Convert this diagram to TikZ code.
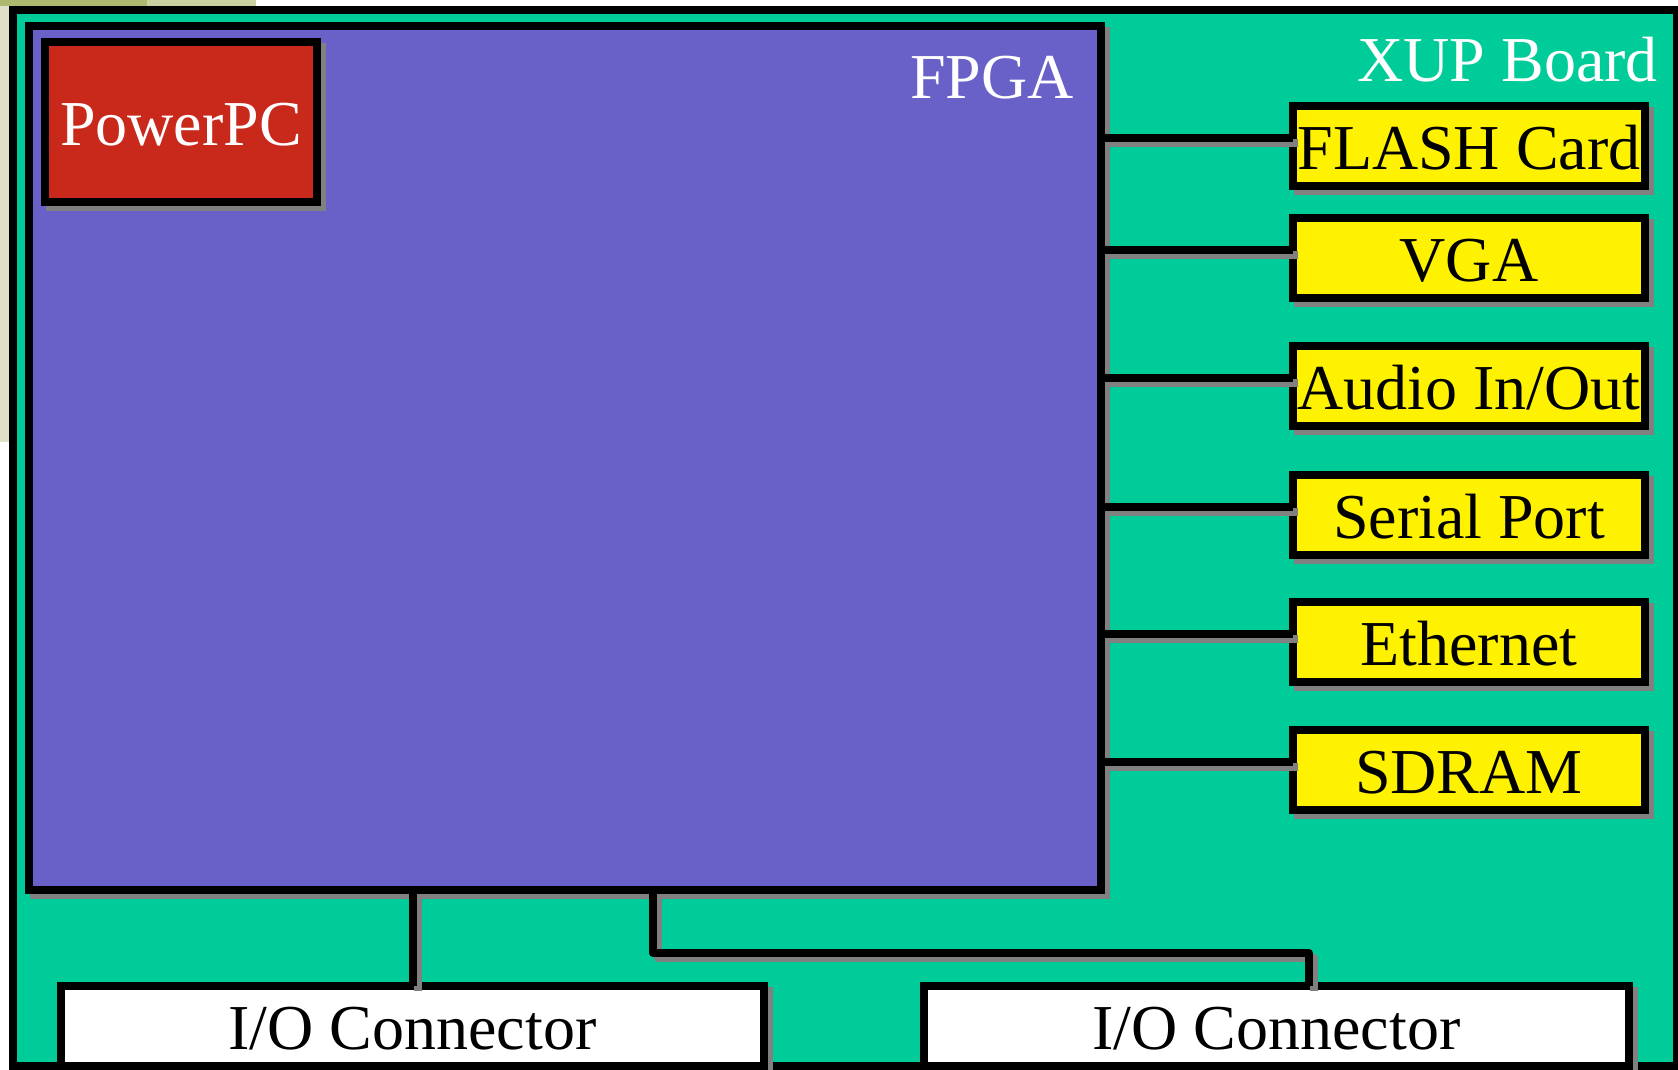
\documentclass[tikz,border=0pt]{standalone}
\usepackage{fontspec}
\setmainfont{Liberation Serif}
\usetikzlibrary{calc}
\definecolor{boardgreen}{RGB}{0,204,153}
\definecolor{fpgapurple}{RGB}{106,97,200}
\definecolor{pcred}{RGB}{201,41,27}
\definecolor{shadowc}{RGB}{128,128,128}
\definecolor{beigec}{RGB}{224,224,200}
\definecolor{olivec}{RGB}{176,184,112}
\definecolor{olivelight}{RGB}{204,208,160}
\begin{document}
\begin{tikzpicture}[x=1pt,y=-1pt,
  bx/.style={draw=black, line width=8pt, rectangle, inner sep=0pt, outer sep=0pt,
    font=\fontsize{64}{70}\selectfont, text height=46pt, text depth=0pt},
  ybox/.style={bx, fill=yellow, minimum width=352pt, minimum height=80pt},
  iobox/.style={bx, fill=white, minimum height=80pt},
  lbl/.style={text=white, inner sep=0pt, outer sep=0pt, font=\fontsize{64}{70}\selectfont, anchor=base east},
  conn/.style={draw=black, line width=8pt, line join=round},
  connshadow/.style={draw=shadowc, line width=8pt, line join=round, transform canvas={xshift=5pt,yshift=-5pt}},
  shd/.style={fill=shadowc}]
\useasboundingbox (0,0) rectangle (1678,1069);
% page background and screenshot remnants
\fill[white] (0,0) rectangle (1678,1069);
\fill[beigec] (0,0) rectangle (9,442);
\fill[olivec] (0,0) rectangle (147,6);
\fill[olivelight] (147,0) rectangle (256,6);
% board
\node[bx, fill=boardgreen, minimum width=1664pt, minimum height=1056pt] (board) at (845,538) {};
\node[lbl] (xuplbl) at (1658,81) {XUP Board};
% FPGA
\fill[shd] (30,27) rectangle (1110,899);
\node[bx, fill=fpgapurple, minimum width=1072pt, minimum height=864pt] (fpga) at (565,458) {};
\node[lbl] (fpgalbl) at (1074,98) {FPGA};
% PowerPC
\fill[shd] (46,43) rectangle (326,211);
\node[bx, fill=pcred, text=white, minimum width=272pt, minimum height=160pt] (pc) at (181,122) {PowerPC};
% peripherals
\fill[shd] (1294,107) rectangle (1654,195);
\node[ybox] (flash) at (1469,146) {FLASH Card};
\fill[shd] (1294,219) rectangle (1654,307);
\node[ybox] (vga) at (1469,258) {VGA};
\fill[shd] (1294,347) rectangle (1654,435);
\node[ybox] (audio) at (1469,386) {Audio In/Out};
\fill[shd] (1294,476) rectangle (1654,564);
\node[ybox] (serial) at (1469,515) {Serial Port};
\fill[shd] (1294,603) rectangle (1654,691);
\node[ybox] (eth) at (1469,642) {Ethernet};
\fill[shd] (1294,731) rectangle (1654,819);
\node[ybox] (sdram) at (1469,770) {SDRAM};
% I/O connectors
\fill[shd] (62,987) rectangle (773,1075);
\node[iobox, minimum width=703pt] (iol) at (412.5,1026) {I/O Connector};
\fill[shd] (925,987) rectangle (1638,1075);
\node[iobox, minimum width=705pt] (ior) at (1276.5,1026) {I/O Connector};
% connectors to peripherals
\foreach \n in {flash,vga,audio,serial,eth,sdram}{
  \coordinate (c\n) at ($(\n.west)+(0,-8)$);
  \draw[connshadow] (fpga.east |- c\n) -- (c\n);
  \draw[conn] (fpga.east |- c\n) -- (c\n);
}
% connectors to I/O
\draw[connshadow] (iol.north |- fpga.south) -- (iol.north);
\draw[conn] (iol.north |- fpga.south) -- (iol.north);
\coordinate (k1) at (653,953);
\coordinate (k2) at (1309,953);
\draw[connshadow] (k1 |- fpga.south) -- (k1) -- (k2) -- (k2 |- ior.north);
\draw[conn] (k1 |- fpga.south) -- (k1) -- (k2) -- (k2 |- ior.north);
\end{tikzpicture}
\end{document}
